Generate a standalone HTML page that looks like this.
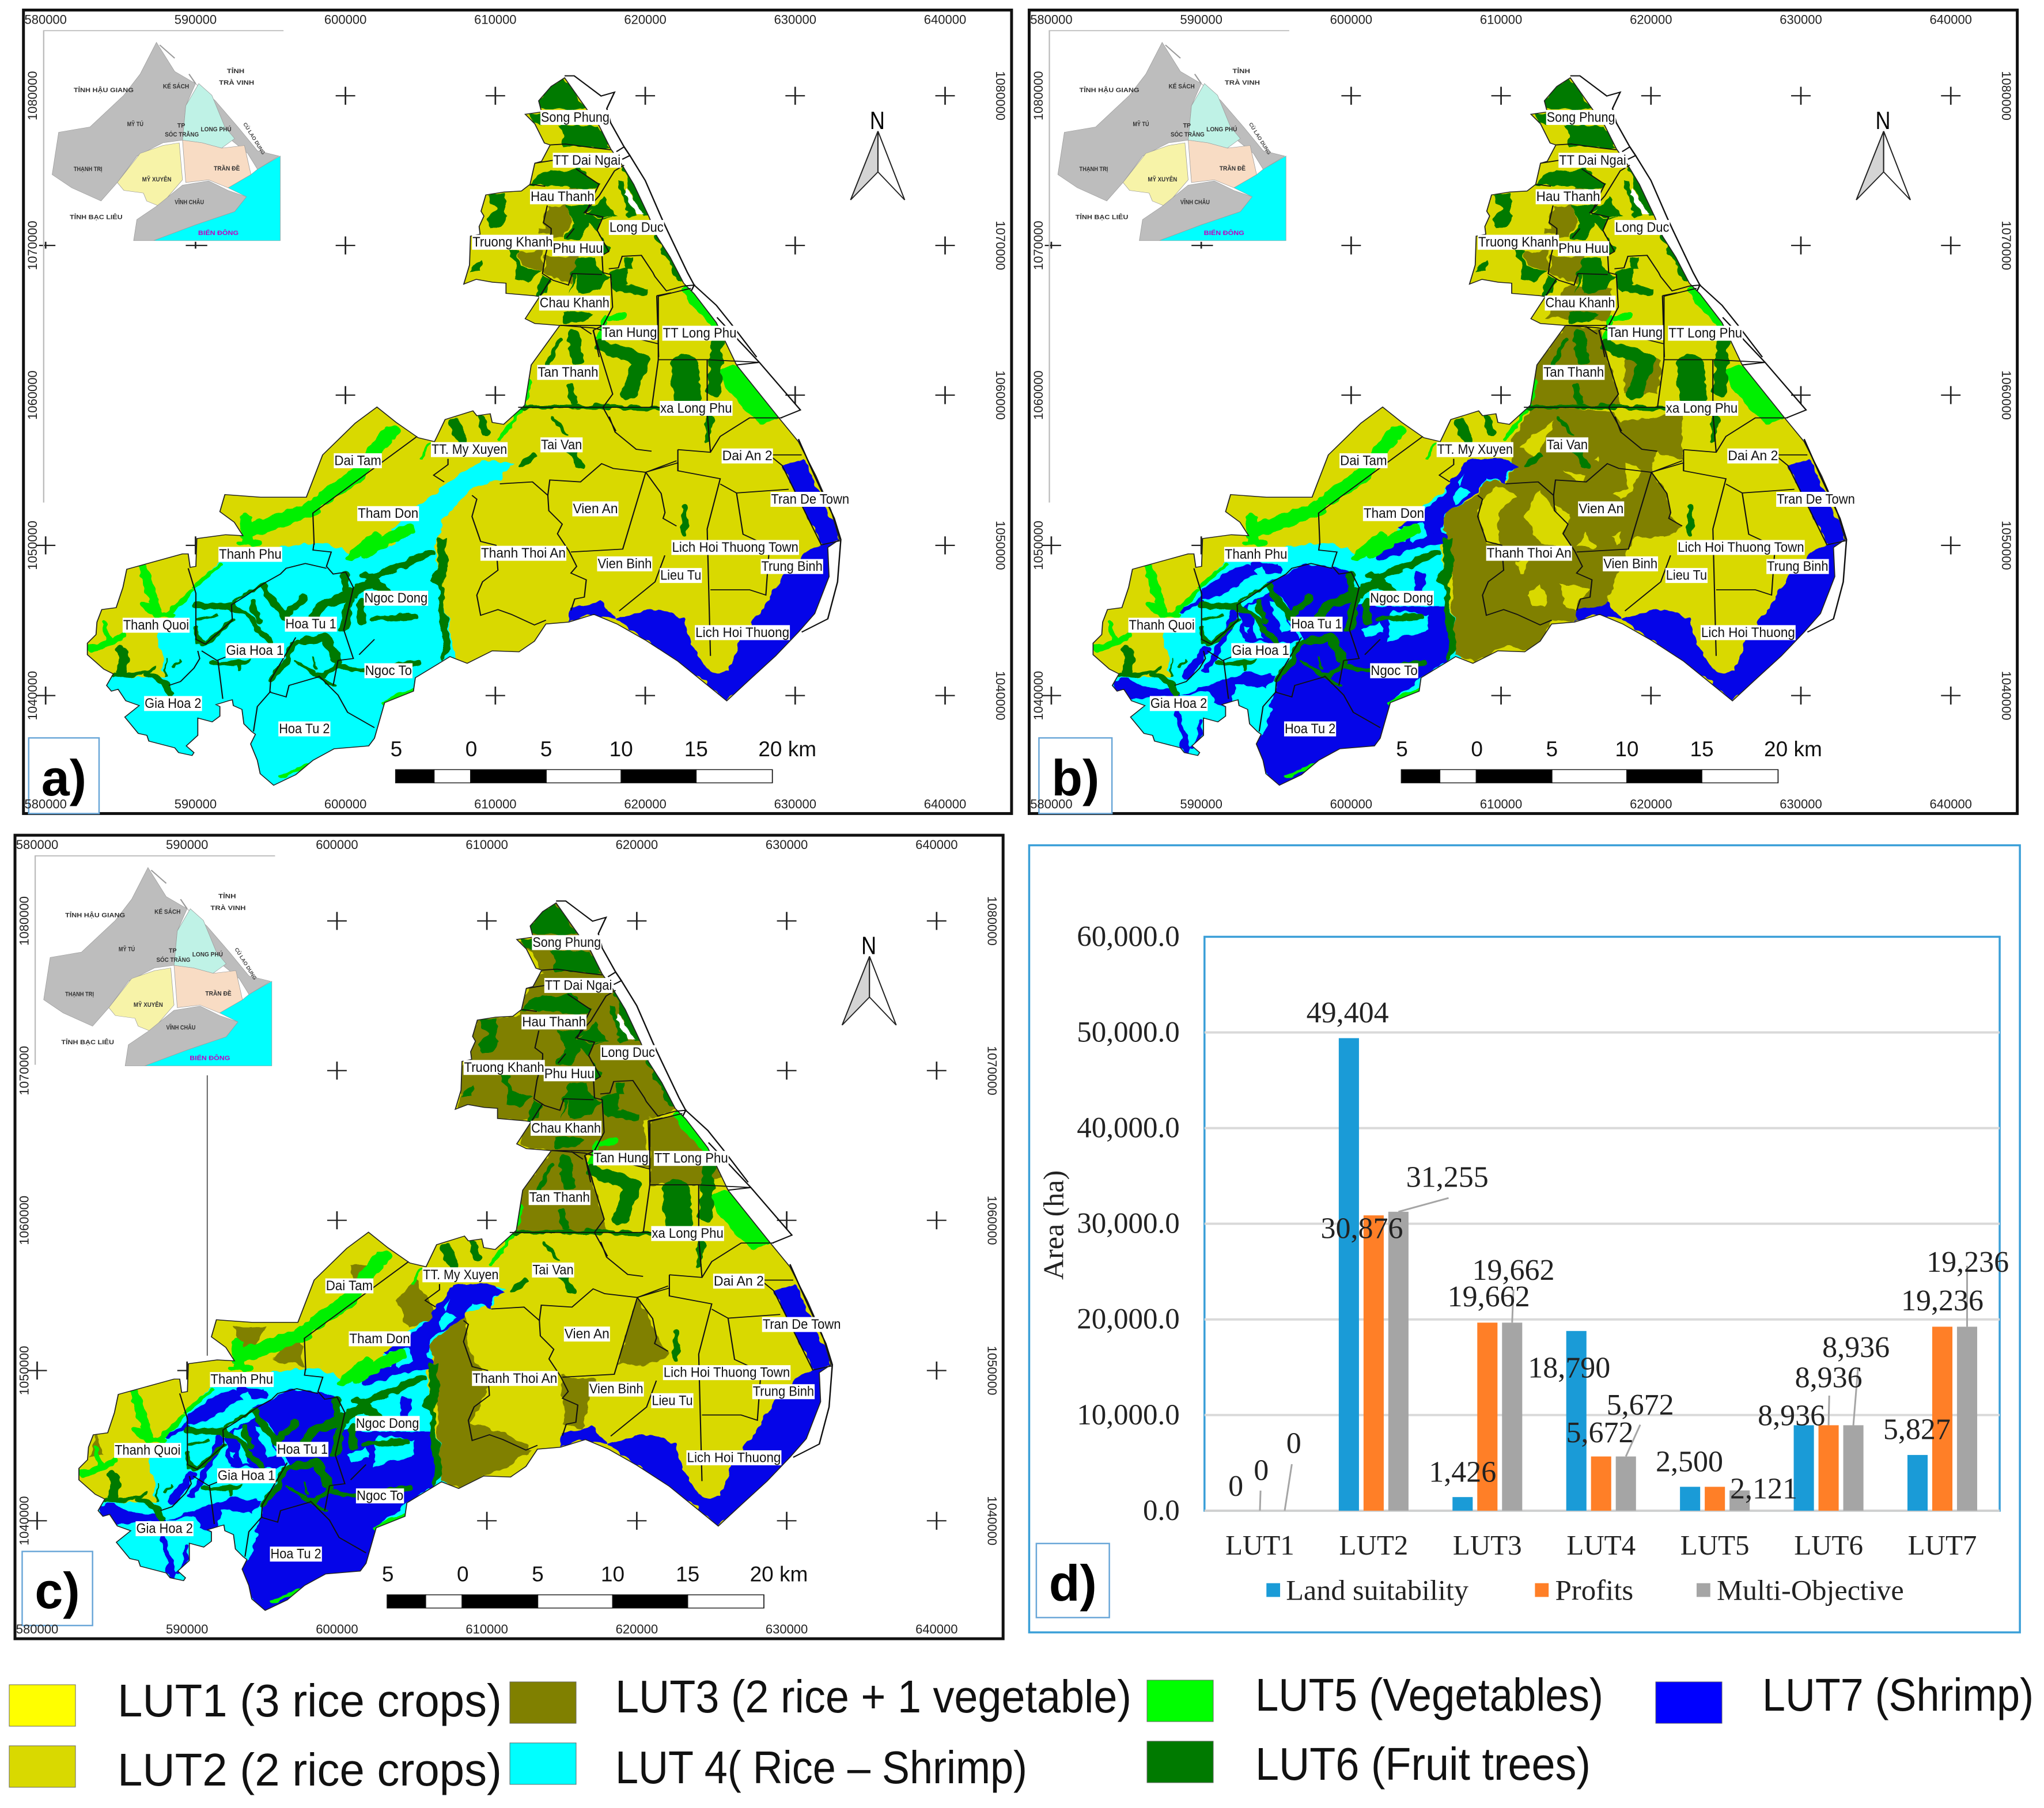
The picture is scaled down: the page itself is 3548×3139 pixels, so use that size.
<!DOCTYPE html>
<html lang="en">
<head>
<meta charset="utf-8">
<title>Land use type maps and area chart</title>
<style>
html,body{margin:0;padding:0;background:#fff;}
svg{display:block;}
text{font-family:"Liberation Sans","DejaVu Sans",sans-serif;}
.serif{font-family:"Liberation Serif","DejaVu Serif",serif;}
</style>
</head>
<body>
<svg id="figure" xmlns="http://www.w3.org/2000/svg" width="3548" height="3139" viewBox="0 0 3548 3139">
<rect x="0" y="0" width="3548" height="3139" fill="#ffffff"/>
<defs>
<clipPath id="land-clip"><polygon id="land-clip-shape" points=""/></clipPath>
<filter id="rough-edges" filterUnits="userSpaceOnUse" x="0" y="0" width="1568" height="1568" color-interpolation-filters="sRGB">
<feTurbulence type="fractalNoise" baseFrequency="0.055" numOctaves="2" seed="7" result="noise"/>
<feDisplacementMap in="SourceGraphic" in2="noise" scale="14" xChannelSelector="R" yChannelSelector="G"/>
</filter>
</defs>
<g id="maps"></g>
<g id="chart"></g>
<g id="legend"></g>
</svg>
<script>
/* ---------- chart data (panel d) ---------- */
const categories = ['LUT1','LUT2','LUT3','LUT4','LUT5','LUT6','LUT7'];
const landSuitability = [0,49404,1426,18790,2500,8936,5827];
const profits = [0,30876,19662,5672,2500,8936,19236];
const multiObjective = [0,31255,19662,5672,2121,8936,19236];
const seriesNames = ['Land suitability','Profits','Multi-Objective'];
const yTicks = [0,10000,20000,30000,40000,50000,60000];

/* ---------- helpers ---------- */
const NS = 'http://www.w3.org/2000/svg';
const SX = 1774/1568, SY = 1440/1568;
function mk(parent, tag, attrs, name){
  const el = document.createElementNS(NS, tag);
  for (const k in attrs) el.setAttribute(k, attrs[k]);
  
  
  parent.appendChild(el);
  return el;
}
function txt(parent, str, x, y, size, name, extra){
  const a = Object.assign({x:x, y:y, 'font-size':size, 'dominant-baseline':'central', 'text-anchor':'middle', fill:'#000'}, extra||{});
  const el = mk(parent, 'text', a, name);
  el.textContent = str;
  return el;
}
function pts(a){
  let s = '';
  for (let i = 0; i < a.length; i += 2) s += a[i] + ',' + a[i+1] + ' ';
  return s;
}
/* tracing frames: coordinates traced at 3x over a region, converted to the shared map frame */
function C(ox, oy, a){
  const r = [];
  for (let i = 0; i < a.length; i += 2) r.push((ox + a[i]/3)/SX, (oy + a[i+1]/3)/SY);
  return r;
}
const c1 = a => C(800, 100, a);
const c2 = a => C(130, 880, a);
const c3 = a => C(134.3, 880, a);
const c4 = a => C(654.3, 700, a);
/* stroke lines traced the same way: first entry is the width at 3x */
const wl = (f, a) => [a[0]/3.3].concat(f(a.slice(1)));

/* ---------- map geometry, in a shared local frame ---------- */
const LAND = [].concat(
 c1([540,105,655,268,720,355,780,475,840,560,900,660,980,830,1020,930,1090,1040,1160,1175,1215,1230,1330,1380]),
 [1130,690,1195,790,1225,835,1252,900,1275,965,1288,1020,1270,1035,1272,1090,1250,1160,1225,1195,1190,1240,1150,1285,1115,1325,1085,1295,1040,1250,990,1210],
 c4([1250,1150,1130,1100,1000,1140,880,1150,820,1240,740,1295,600,1290,470,1355,380,1320,340,1345,200,1430,190,1500,40,1560]),
 c2([1560,1205,1530,1245,1350,1260,1240,1320,1150,1395,1035,1450,965,1390,950,1320,915,1235,940,1185,920,1170,880,1130,870,1055,825,1035,820,1005,800,1010,735,1030,755,1040,755,1090,715,1120,640,1100,640,1190,580,1245,620,1280,610,1295,540,1280,520,1255,385,1220,375,1190,330,1180,260,1095,335,1035,265,1010,225,950,190,960,165,930,200,870,150,845,65,770,65,710,110,665,115,600,140,535,215,525,250,420,270,325,560,245,590,245,600,315,630,310,635,165,785,145,875,150,830,80,755,25]),
 [345,935,400,940,470,940,495,860,545,800],
 c4([0,20,100,100,215,180,300,200,355,85,500,40,520,65,590,55,600,100,660,110,770,10]),
 [815,690],
 c1([515,1395,385,1385,335,1360,410,1245,380,1240,235,1228,235,1175,165,1170,80,1155,15,1180,45,1080,50,930,100,920,95,880,120,825,105,800,130,715,225,700,315,695,360,660,385,550,420,540,465,455,435,445,385,345,335,295,420,283,405,225,470,150])
);
const COAST = [
 c1([540,95,590,95,650,140,730,200,800,180,760,265,780,340,850,465,880,510,960,640,1045,835,1075,900,1180,1120,1215,1185,1330,1290,1410,1390,1540,1560]),
 [1100,600,1165,685,1228,775,1198,790],
 [1225,830,1250,900,1280,980,1290,1020,1285,1100,1270,1170,1230,1195],
 [1130,690,1165,685],
 c1([810,490,850,465,880,510,840,530]),
 c1([1160,1190,1215,1185,1200,1215])
];
const DISTRICTS = [
 [640,825,480,970,482,1030],
 c2([1245,190,1240,225,1335,235,1310,310,1345,350,1410,340,1450,420,1400,640,1450,790,1370,800]),
 c2([1310,320,1200,295,1100,320,1070,350,990,395,880,470,815,510,820,590,680,715,630,690,630,450,590,320]),
 c2([660,750,740,800,790,780]),
 c2([745,800,770,1000]),
 c2([1150,680,1020,900,1015,965,1100,990,1115,930,1270,885]),
 c2([1020,960,950,1040,930,1170]),
 c2([1270,880,1370,980,1420,1070,1560,1150]),
 c2([640,750,650,790,620,840,550,910,490,930]),
 c2([1370,800,1345,930]),
 c2([1480,770,1560,690]),
 c4([495,480,520,500,495,590,540,720,620,740,630,870,550,930,520,1000,540,1105,630,1075,700,1100,820,1155,880,1130]),
 c4([640,420,810,410,890,480,895,560,965,630,940,680,1000,770,1040,850,1010,885,1090,920,1080,1010,1030,1020,1010,1080]),
 c4([890,480,900,400,1060,410,1170,315,1230,340,1400,360,1280,760,1010,775]),
 c4([1400,360,1480,470,1500,570,1490,600,1560,640]),
 c4([1400,360,1560,300]),
 c4([1430,250,1350,240,1240,150,1210,70]),
 c4([370,290,370,320,295,375,350,410]),
 [990,893,1040,875,1040,890,1105,905,1085,1000,1090,1240],
 [1020,1050,1005,1100,950,1155],
 [1105,915,1130,932,1140,1010,1175,1030,1225,1030],
 [1130,932,1210,925],
 [1040,850,1090,855,1105,825,1150,790,1200,790],
 [1040,850,1040,890],
 [1180,860,1230,860],
 [1180,860,1200,880,1260,1030,1290,1022],
 [1090,1115,1150,1115,1175,1125,1180,1040],
 [1090,855,1085,780,1085,680,1010,680,1010,560,1060,545],
 [1085,680,1165,685],
 [910,625,940,745,925,770,945,815],
 [1010,680,1000,770],
 [795,770,860,770,925,770,1010,770,1085,780],
 [860,615,910,620,1010,650],
 c1([465,455,545,450,690,470,780,480]),
 c1([385,550,480,535]),
 c1([600,580,720,660,690,720,650,810,740,830,710,900,770,1010,735,1030,740,1120,780,1130,790,1300,740,1395]),
 c1([360,660,440,670]),
 c1([450,770,430,860,470,890,470,915,440,1030,425,1125,480,1160,560,1185,580,1125,735,1130]),
 c1([470,1150,410,1245]),
 c1([640,810,720,720,800,590,850,560]),
 c1([550,940,590,890]),
 c1([770,1100,820,1095,840,1035,940,1030,1000,1120,1010,1140,1070,1215,1160,1190]),
 c1([1020,1240,1095,1225]),
 c1([1020,1240,1030,1560]),
 c1([515,1395,740,1395,690,1420,720,1560]),
 c1([620,1400,680,1440])
];
const CYAN = [].concat(
 c2([470,890,430,660,490,550,625,440,610,420,750,290,1075,205,1245,195,1390,210,1430,265]),
 [610,1030,600,1000,650,950,700,900,740,870,785,875,770,905,720,925,680,985,665,1030,700,1250,640,1300,590,1500,100,1550,100,1320],
 c2([200,880])
);
const BLUE_SE = [875,1150,920,1135,945,1170,1010,1150,1050,1170,1060,1220,1090,1270,1120,1270,1135,1215,1170,1150,1200,1090,1240,1040,1290,1020,1275,1110,1240,1195,1190,1240,1150,1285,1115,1325,1085,1295,1040,1250,990,1210,945,1170,900,1165,870,1175];
const BLUE_E = [1200,880,1235,870,1262,940,1288,1020,1265,1030,1240,980];
const BLUE_MAIN = [].concat(
 c3([1020,370,1150,300,1300,310,1400,340,1420,500,1560,520]),
 c4([330,1060,340,1340,200,1430,40,1560]),
 c3([1560,1300,1350,1400,1035,1500,880,1300,905,1200,940,1185,1010,900,1140,680,1090,560,1030,470,960,390])
);
const BLUE_POLYS = [
 BLUE_MAIN,
 c3([620,430,800,310,1020,300,1020,345,880,360,700,470,610,480]),
 c3([810,540,1000,420,1120,690,1080,710,830,700]),
 c3([500,985,850,860,1000,880,960,950,790,920,780,1030,680,1030,660,960]),
 c3([170,900,230,890,310,940,480,960,500,985,240,1000,160,940]),
 c4([640,420,640,380,700,330,640,290,450,290,370,390,290,510,220,560,80,640,130,720,310,680,320,580,490,470,540,390]),
 c4([170,870,220,890,210,980,170,980])
];
const BLUE_RIBBONS = [
 wl(c3, [30,520,540,610,490]),
 wl(c3, [45,640,740,530,890]),
 wl(c3, [35,790,550,700,750,640,850]),
 wl(c3, [30,490,1080,540,1270]),
 wl(c3, [20,620,1110,600,1220,560,1250]),
 wl(c3, [30,880,300,1020,320]),
 wl(c4, [60,0,790,130,740,310,700])
];
const CYAN_HOLES = [
 c3([965,500,1020,500,1085,640,1040,650]),
 c3([870,510,910,500,940,690,900,690]),
 c3([840,620,870,620,860,660]),
 c3([890,330,930,315,960,370,920,400]),
 c3([880,800,1040,800,1040,830,880,840]),
 c3([520,975,830,820,830,850,520,965]),
 c4([355,490,410,435,460,460,380,530]),
 c4([105,640,210,625,240,690,160,725]),
 c4([385,410,420,370,400,430]),
 c4([30,1140,50,1090,240,1100,230,1190,120,1210,20,1250]),
 c3([1450,640,1560,600,1560,660,1470,680])
];
const OLIVE_NORTH = [
 c1([450,770,550,770,580,850,540,940,470,940,430,860]),
 c1([405,900,470,885,470,915,405,915]),
 c1([550,950,590,900,620,950]),
 c1([430,1120,440,1030,480,1040,610,1030,610,1120,570,1180,480,1140]),
 c1([300,1010,430,1005,420,1120,350,1090,310,1080]),
 c1([570,660,610,650,620,690,560,690])
];
const OLIVE_B = [
 c4([670,190,780,20,1200,40,1240,100,1560,50,1560,300,1430,250,1400,370,1480,470,1500,570,1560,640,1480,700,1310,700,1220,880,1190,980,1150,1060,1010,1070,1010,1130,880,1140,820,1240,740,1290,650,1270,590,1290,490,1350,380,1310,370,1150,360,860,310,620,330,570,490,480,540,400,640,420,680,350]),
 [795,770,815,690,860,615,910,620,945,770],
 [860,540,930,545,925,610,830,600],
 [950,660,1005,680,1000,745,950,745]
];
const YELLOW_BLOBS_B = [
 c4([500,540,590,430,690,480,600,570,600,730,545,730,500,600]),
 c4([735,590,820,450,900,570,965,630,940,690,985,745,825,740,770,650]),
 c4([700,820,760,820,730,880,710,880]),
 c4([755,1000,820,940,850,1000,840,1060,780,1050]),
 c4([925,935,1080,970,1040,1010,1010,1080,950,1070]),
 c4([1010,750,1060,670,1110,750]),
 c4([1195,690,1240,670,1230,740,1205,740]),
 c4([895,530,980,580,965,625,895,570]),
 c4([1200,480,1280,440,1280,390,1260,300,1340,340,1300,460,1240,500]),
 c4([940,350,1060,385,1040,410,980,390]),
 c4([1100,290,1130,280,1125,305]),
 c4([710,230,890,90,850,200,800,290,760,260]),
 c4([1490,480,1560,490,1560,620,1500,590])
];
const OLIVE_C = [
 [830,180,868,146,885,148,905,195,935,265,952,300,965,345,1010,440,1058,535,1000,560,1010,650,910,625,945,770,795,770,815,690,860,615,810,605,820,555,780,555,715,535,720,470,745,370,810,360,820,310,845,280,830,240,805,225,830,210],
 [1010,560,1060,545,1095,605,1120,665,1085,680,1010,680],
 [670,985,725,925,735,1000,765,1060,735,1130,790,1150,830,1180,790,1215,745,1240,725,1255,690,1240,680,1020],
 [875,1040,930,1050,905,1140,880,1130,875,1080],
 [990,893,1040,1000,1010,1020,960,1020],
 [550,830,590,830,555,880],
 [650,860,690,930,640,950,620,900],
 [370,950,420,950,390,1010],
 [470,960,482,1025,430,1010],
 [160,1150,175,1190,150,1195]
];
const DARK_POLYS = [
 c1([540,110,655,268,420,268,405,225,470,150]),
 c1([335,295,420,283,420,350,385,340]),
 c1([505,355,720,355,780,475,535,460,530,400]),
 c1([400,610,470,580,540,590,620,580,720,660,690,690,590,680,360,665]),
 c1([140,720,230,710,240,760,225,800,240,830,200,880,150,880,140,840,180,800,170,760]),
 c1([550,775,610,775,720,760,650,810,720,830,820,830,730,840,700,900,745,950,770,1010,730,1025,735,950,660,860,620,950,540,950,590,860]),
 c1([250,1000,300,1005,300,1080,420,1120,350,1165,270,1155,290,1100]),
 c1([610,1040,700,1040,740,1120,780,1130,720,1210,600,1230,600,1130,570,1230,580,1130]),
 c1([380,1240,430,1140,470,1150,440,1230]),
 c1([770,1110,870,1090,860,1180,970,1200,970,1235,800,1230]),
 c1([850,1040,900,1040,900,1100,860,1100]),
 c1([50,1090,110,1050,105,1120,40,1120]),
 c1([740,720,770,780,820,830,650,820,700,770]),
 c1([840,560,870,560,980,830,950,830,880,690]),
 c1([810,640,840,650,910,830,880,830]),
 c1([1010,930,1050,930,1160,1170,1130,1170]),
 c1([530,1330,690,1330,660,1370,540,1385]),
 c4([310,700,360,700,370,870,340,950,370,1150,385,1280,340,1340,330,1150,320,950,270,920,320,870])
];
const WHITE_STRIPS = [c1([870,680,950,820,910,820,850,710])];
const DARK_LINES = [
 [8,860,640,840,690],[18,880,630,885,680],[24,925,655,985,680,965,745],[42,1050,690,1055,750],[20,1100,650,1095,740],
 [8,795,770,860,770,925,768,1010,772,1085,780],[9,1090,790,1085,830],[12,875,730,880,760],[8,850,790,865,820],[10,820,860,800,880],[12,875,850,890,880],[10,1050,960,1050,1010],
 wl(c2, [45,640,510,810,520]),wl(c2, [20,640,590,740,570]),wl(c2, [25,630,640,640,700,680,715,760,640,815,590]),
 wl(c2, [28,820,520,900,560,960,650,1020,700]),wl(c2, [30,920,500,960,600]),wl(c2, [40,985,410,1040,510,1090,570]),wl(c2, [15,820,500,920,430,990,400]),
 wl(c2, [40,1100,570,1190,470]),wl(c2, [50,1240,570,1300,510,1420,460]),wl(c2, [40,1400,350,1430,480,1400,640]),wl(c2, [60,1440,450,1560,390]),wl(c2, [40,1480,490,1500,600]),
 wl(c2, [50,1180,700,1300,680,1370,800]),wl(c2, [30,1150,700,1090,820,1020,900]),wl(c2, [20,1150,800,1270,880,1350,940]),wl(c2, [30,1270,880,1370,830,1530,850]),wl(c2, [12,1240,790,1260,850]),
 wl(c2, [30,715,810,760,820,900,800]),wl(c2, [20,860,810,860,850]),wl(c2, [50,240,740,260,790,240,860]),wl(c2, [25,200,880,320,870,420,840]),wl(c2, [35,380,870,470,920,490,970]),wl(c2, [10,480,800,470,880]),wl(c2, [14,520,830,550,800]),
 [12,575,1090,660,1045],[14,560,1085,600,1130],[10,575,1170,640,1165],[10,590,1260,640,1255],
 c4([0,0]).length ? wl(c4, [60,400,100,440,190]) : [],
 wl(c4, [40,540,70,570,150])
];
const BRIGHT_LINES = [
 [25,600,815,545,900,470,965,385,1000],[22,625,1000,560,1045],
 [25,1060,550,1130,650,1190,780],[40,1125,710,1170,780],[10,930,600,920,640],[12,810,720,800,770],[8,640,1300,590,1330],[6,430,1470,520,1420],
 wl(c4, [20,640,190,770,10]),wl(c4, [14,220,300,270,210]),
 wl(c2, [50,350,310,410,470,430,560]),wl(c2, [40,360,510,430,560,500,560]),wl(c2, [30,155,610,170,690]),wl(c2, [35,80,740,260,670]),
 wl(c2, [55,890,60,900,180]),wl(c2, [45,880,150,1060,100,1240,10]),wl(c2, [25,860,190,960,190]),wl(c2, [22,620,420,760,300]),wl(c2, [60,1560,160,1440,260]),wl(c2, [24,490,550,610,440]),
 wl(c1, [40,780,1355,840,1350]),wl(c1, [24,1185,1225,1300,1340])
];
const MAP_LABELS = [
 ['Song Phung',830,935,222],['TT Dai Ngai',849,952,303],['Hau Thanh',814,912,372],['Truong Khanh',725,848,458],
 ['Phu Huu',848,925,470],['Long Duc',935,1018,430],['Chau Khanh',828,935,573],['Tan Hung',924,1008,629],
 ['TT Long Phu',1017,1130,630],['Tan Thanh',825,918,704],['xa Long Phu',1013,1123,772],['Dai Tam',513,585,871],
 ['TT. My Xuyen',662,778,850],['Tai Van',830,893,841],['Dai An 2',1108,1185,862],['Vien An',879,948,962],
 ['Tran De Town',1183,1303,944],['Tham Don',549,642,971],['Thanh Phu',336,432,1048],['Thanh Thoi An',738,868,1046],
 ['Lich Hoi Thuong Town',1031,1225,1035],['Vien Binh',917,1000,1066],['Trung Binh',1168,1262,1071],['Lieu Tu',1013,1076,1088],
 ['Ngoc Dong',559,656,1131],['Thanh Quoi',189,290,1182],['Hoa Tu 1',438,516,1180],['Lich Hoi Thuong',1067,1211,1196],
 ['Gia Hoa 1',347,435,1230],['Ngoc To',560,632,1268],['Gia Hoa 2',222,309,1330],['Hoa Tu 2',428,506,1378]
];
const INSET_SHAPES = [
 ['#00ffff',[430,295,430,455,235,455,300,425,360,400,378,372,350,355,385,330,395,320]],
 ['#bdbdbd',[240,80,215,140,190,180,138,240,90,250,80,330,110,355,155,380,180,345,210,295,250,270,280,265,285,200,300,158,268,135]],
 ['#bdbdbd',[300,158,330,190,365,240,395,285,428,295,395,320,380,290,355,265,340,230,320,180]],
 ['#bff2e6',[305,158,325,180,345,240,360,262,340,280,310,270,280,265,285,200]],
 ['#f7f3a8',[180,345,215,290,250,275,275,270,280,340,245,390,225,380,220,365,190,360]],
 ['#f8dcc4',[280,265,310,270,340,280,375,275,385,330,350,355,320,340,285,345]],
 ['#bdbdbd',[280,350,320,342,350,360,378,372,360,400,300,425,235,455,205,455,210,415,240,390]]
];
const INSET_LABELS = [
 ['TỈNH HẬU GIANG',113,205,171,0],['TỈNH',348,375,135,0],['TRÀ VINH',336,390,157,0],['KẾ SÁCH',250,290,164,0],
 ['MỸ TÚ',195,220,235,0],['TP',272,284,238,0],['SÓC TRĂNG',253,305,255,0],['LONG PHÚ',308,355,245,0],
 ['THẠNH TRỊ',113,157,320,0],['TRẦN ĐỀ',328,368,319,0],['MỸ XUYÊN',218,263,340,0],['VĨNH CHÂU',268,313,383,0],
 ['TỈNH BẠC LIÊU',107,188,411,0],['BIỂN ĐÔNG',304,366,441,1]
];
const GRID_X = [70,300,530,760,990,1220,1450];
const GRID_Y = [181,464,747,1031,1315];
const X_NAMES = ['580000','590000','600000','610000','620000','630000','640000'];
const Y_NAMES = ['1080000','1070000','1060000','1050000','1040000'];

const OLIVE='#808000', YEL='#d9d900', CYA='#00ffff', BLU='#0505e8', DRK='#007a00', BRT='#00f000';

document.getElementById('land-clip-shape').setAttribute('points', pts(LAND));

function drawPanel(opts){
  const root = document.getElementById('maps');
  const X = z => opts.dx + z*SX, Y = z => opts.dy + z*SY;
  const panel = mk(root, 'g', {}, 'map-panel-' + opts.key);
  mk(panel, 'rect', {x:X(36), y:Y(19), width:1516*SX, height:1519*SY, fill:'#fff', stroke:'#111', 'stroke-width':5}, 'map-frame');

  const geo = mk(panel, 'g', {transform:'translate(' + opts.dx + ',' + opts.dy + ') scale(' + SX + ',' + SY + ')'}, 'map-geometry');

  // graticule crosses
  GRID_Y.forEach((gy, r) => GRID_X.forEach((gx, c) => {
    if (r < 3 && c < 2) return;
    mk(geo, 'path', {d:'M' + (gx-15) + ' ' + gy + 'H' + (gx+15) + 'M' + gx + ' ' + (gy-17) + 'V' + (gy+17), stroke:'#222', 'stroke-width':2.4, fill:'none'}, 'graticule-cross');
  }));
  if (opts.key !== 'c') {
    mk(geo, 'path', {d:'M60 464H85M285 464H318M300 457V470M70 457V470', stroke:'#222', 'stroke-width':2.4, fill:'none'}, 'graticule-tick');
  }

  // land and land-use layers
  mk(geo, 'polygon', {points:pts(LAND), fill:YEL}, 'lut2-land');
  const clip = mk(geo, 'g', {'clip-path':'url(#land-clip)'}, 'land-use-clip');
  const layers = mk(clip, 'g', {filter:'url(#rough-edges)'}, 'land-use-layers');
  const poly = (a, fill, name) => mk(layers, 'polygon', {points:pts(a), fill:fill}, name);
  const line = (a, col, name) => mk(layers, 'polyline', {points:pts(a.slice(1)), fill:'none', stroke:col, 'stroke-width':a[0], 'stroke-linejoin':'round', 'stroke-linecap':'round'}, name);

  poly(CYAN, CYA, 'lut4-area');
  poly(BLUE_SE, BLU, 'lut7-southeast');
  poly(BLUE_E, BLU, 'lut7-east-strip');
  if (opts.key === 'a') OLIVE_NORTH.forEach(p => poly(p, OLIVE, 'lut3-patch'));
  if (opts.key === 'b') {
    OLIVE_NORTH.forEach(p => poly(p, OLIVE, 'lut3-patch'));
    OLIVE_B.forEach(p => poly(p, OLIVE, 'lut3-patch'));
    YELLOW_BLOBS_B.forEach(p => poly(p, YEL, 'lut2-patch'));
  }
  if (opts.key === 'c') {
    OLIVE_C.forEach(p => poly(p, OLIVE, 'lut3-patch'));
  }
  if (opts.key !== 'a') {
    BLUE_POLYS.forEach(p => poly(p, BLU, 'lut7-area'));
    BLUE_RIBBONS.forEach(l => line(l, BLU, 'lut7-ribbon'));
    CYAN_HOLES.forEach(p => poly(p, CYA, 'lut4-patch'));
  }
  BRIGHT_LINES.forEach(l => line(l, BRT, 'lut5-strip'));
  DARK_POLYS.forEach(p => poly(p, DRK, 'lut6-patch'));
  DARK_LINES.forEach(l => line(l, DRK, 'lut6-strip'));
  WHITE_STRIPS.forEach(p => poly(p, '#fff', 'unclassified-strip'));

  // boundaries
  DISTRICTS.forEach(d => mk(geo, 'polyline', {points:pts(d), fill:'none', stroke:'#111', 'stroke-width':1.9}, 'district-boundary'));
  mk(geo, 'polygon', {points:pts(LAND), fill:'none', stroke:'#222', 'stroke-width':1.6}, 'land-outline');
  COAST.forEach(d => mk(geo, 'polyline', {points:pts(d), fill:'none', stroke:'#111', 'stroke-width':2.2}, 'coast-line'));

  // inset locator
  mk(geo, 'path', {d:'M435 58H67V' + opts.lineEnd, fill:'none', stroke:'#bbb', 'stroke-width':2}, 'inset-frame');
  if (opts.key === 'c') mk(geo, 'path', {d:'M331 473V1003', fill:'none', stroke:'#555', 'stroke-width':1.6}, 'inset-leader-line');
  INSET_SHAPES.forEach(s => mk(geo, 'polygon', {points:pts(s[1]), fill:s[0], stroke:'#9a9a9a', 'stroke-width':0.7}, 'inset-region'));
  mk(geo, 'path', {d:'M245 85L268 110M290 140L300 158', fill:'none', stroke:'#999', 'stroke-width':2}, 'inset-coast');

  // north arrow
  mk(geo, 'polygon', {points:pts([1347,248,1305,378,1347,325]), fill:'#d4d4d4', stroke:'#222', 'stroke-width':1.8}, 'north-arrow-left');
  mk(geo, 'polygon', {points:pts([1347,248,1388,378,1347,325]), fill:'#fff', stroke:'#222', 'stroke-width':1.8}, 'north-arrow-right');

  // scale bar
  [[607,666,1],[666,722,0],[722,838,1],[838,953,0],[953,1068,1],[1068,1185,0]].forEach(s => {
    mk(geo, 'rect', {x:s[0], y:1455, width:s[1]-s[0], height:25, fill:s[2] ? '#000' : '#fff', stroke:'#111', 'stroke-width':1.5}, 'scale-bar-segment');
  });

  // panel letter box sits under the coordinate text
  const b = opts.box;
  mk(panel, 'rect', {x:X(b[0]), y:Y(b[1]), width:(b[2]-b[0])*SX, height:(b[3]-b[1])*SY, fill:'#fff', stroke:'#6aa7d8', 'stroke-width':2.5}, 'panel-letter-box');

  // text (unscaled)
  const t = mk(panel, 'g', {}, 'map-text');
  X_NAMES.forEach((n, i) => {
    txt(t, n, X(GRID_X[i]), Y(37), 22, 'x-coordinate-top', {fill:'#222'});
    txt(t, n, X(GRID_X[i]), Y(1520), 22, 'x-coordinate-bottom', {fill:'#222'});
  });
  Y_NAMES.forEach((n, i) => {
    const yy = Y(GRID_Y[i]);
    txt(t, n, X(50), yy, 22, 'y-coordinate-left', {fill:'#222', transform:'rotate(-90 ' + X(50) + ' ' + yy + ')'});
    txt(t, n, X(1535), yy, 22, 'y-coordinate-right', {fill:'#222', transform:'rotate(90 ' + X(1535) + ' ' + yy + ')'});
  });
  INSET_LABELS.forEach(l => {
    txt(t, l[0], X((l[1]+l[2])/2), Y(l[3]), 11, 'inset-label', {'font-weight':'bold', fill:l[4] ? '#c000c0' : '#333', textLength:(l[2]-l[1])*SX, lengthAdjust:'spacingAndGlyphs'});
  });
  txt(t, 'CÙ LAO DUNG', X(390), Y(262), 9, 'inset-label', {'font-weight':'bold', fill:'#444', transform:'rotate(58 ' + X(390) + ' ' + Y(262) + ')'});
  MAP_LABELS.forEach(l => {
    mk(t, 'rect', {x:X(l[1])-1, y:Y(l[3])-13, width:(l[2]-l[1])*SX+2, height:26, fill:'#fff'}, 'place-label-background');
    txt(t, l[0], X((l[1]+l[2])/2), Y(l[3]), 24, 'place-label', {textLength:(l[2]-l[1])*SX, lengthAdjust:'spacingAndGlyphs', fill:'#111'});
  });
  txt(t, 'N', X(1346), Y(228), 44, 'north-arrow-letter', {textLength:26, lengthAdjust:'spacingAndGlyphs'});
  [['5',608],['0',723],['5',838],['10',953],['15',1068],['20 km',1208]].forEach(s => txt(t, s[0], X(s[1]), Y(1416), 37, 'scale-bar-label', {fill:'#111'}));

  txt(panel, opts.key + ')', X((b[0]+b[2])/2), Y((b[1]+b[3])/2 + 4), 88, 'panel-letter', {'font-weight':'bold'});
}

const DXB = 1774 - 25*SX;
const DXC = -13*SX, DYC = 1440 - 8*SY;
drawPanel({key:'a', dx:0, dy:0, lineEnd:950, box:[44,1395,152,1538]});
drawPanel({key:'b', dx:DXB, dy:0, lineEnd:950, box:[51,1395,163,1538]});
drawPanel({key:'c', dx:DXC, dy:DYC, lineEnd:453, box:[47,1373,155,1513]});

/* ---------- bar chart ---------- */
const chart = document.getElementById('chart');
const dX = z => 1774 + z*SX, dY = z => 1440 + z*SY;
const yScale = v => dY(1288) - v/60000*(dY(1288) - dY(203));
const groupCenter = i => dX(365) + i*(174.5*SX);
const barOffset = s => (s-1)*38*SX;
const BAR_W = 31*SX;
const seriesColors = ['#1a9bd7','#ff7f27','#a5a5a5'];
const allSeries = [landSuitability, profits, multiObjective];
/* layout nudges for the hand-placed data labels, relative to each bar's top centre */
const labelNudge = [
 [[1,-46],[-2,-48],[0,-47],[-11,70],[-1,-47],[-19,-18],[-1,-48]],
 [[2,-76],[-18,25],[2,-49],[-2,-45],null,[0,-90],[0,-49]],
 [[14,-127],[75,-65],[2,-99],[22,-97],[37,-3],[4,-147],[1,-122]]
];
const leaderNudge = [[1,0,1,-38],[2,0,11,-88],[2,1,77,-26],[2,2,2,-63],[2,3,22,-60],[1,5,1,-56],[2,5,7,-106],[2,6,0,-115]];

mk(chart, 'rect', {x:dX(11), y:dY(30), width:1520*SX, height:1488*SY, fill:'#fff', stroke:'#3a9fd8', 'stroke-width':3.5}, 'chart-outer-frame');
mk(chart, 'rect', {x:dX(280), y:dY(203), width:1220*SX, height:1085*SY, fill:'#fff', stroke:'#3a9fd8', 'stroke-width':3.5}, 'plot-area-frame');

yTicks.forEach(v => {
  const y = yScale(v);
  if (v > 0 && v < 60000) {
    mk(chart, 'line', {x1:dX(280), x2:dX(1500), y1:y, y2:y, stroke:'#d9d9d9', 'stroke-width':4}, 'gridline');
  }
  if (v === 0) mk(chart, 'line', {x1:dX(280), x2:dX(1500), y1:y, y2:y, stroke:'#d0d0d0', 'stroke-width':4}, 'x-axis-line');
  txt(chart, v.toLocaleString('en-US', {minimumFractionDigits:1, maximumFractionDigits:1}), dX(242), y, 51, 'y-tick-label', {'text-anchor':'end', class:'serif', fill:'#222'});
});
const ax = dX(48), ay = dY(748);
txt(chart, 'Area (ha)', ax, ay, 50, 'y-axis-title', {class:'serif', fill:'#222', transform:'rotate(-90 ' + ax + ' ' + ay + ')'});

allSeries.forEach((vals, s) => {
  vals.forEach((v, i) => {
    const top = yScale(v), cx = groupCenter(i) + barOffset(s);
    if (v > 0) mk(chart, 'rect', {x:cx - BAR_W/2, y:top, width:BAR_W, height:yScale(0)-top, fill:seriesColors[s]}, 'bar-' + categories[i].toLowerCase() + '-series-' + (s+1));
  });
});
leaderNudge.forEach(l => {
  const top = yScale(allSeries[l[0]][l[1]]), cx = groupCenter(l[1]) + barOffset(l[0]);
  mk(chart, 'line', {x1:cx, y1:top, x2:cx + l[2]*SX, y2:top + l[3]*SY, stroke:'#a5a5a5', 'stroke-width':3}, 'data-label-leader');
});
allSeries.forEach((vals, s) => {
  vals.forEach((v, i) => {
    const n = labelNudge[s][i];
    if (!n) return;
    const top = yScale(v), cx = groupCenter(i) + barOffset(s);
    txt(chart, v.toLocaleString('en-US'), cx + n[0]*SX, top + n[1]*SY, 52, 'data-label', {class:'serif', fill:'#222'});
  });
});
categories.forEach((c, i) => txt(chart, c, groupCenter(i), dY(1353), 49, 'x-tick-label', {class:'serif', fill:'#222'}));

const legendPos = [[375,405,280],[787,818,120],[1035,1066,287]];
seriesNames.forEach((n, s) => {
  const p = legendPos[s];
  mk(chart, 'rect', {x:dX(p[0]), y:dY(1425), width:21*SX, height:26*SY, fill:seriesColors[s]}, 'chart-legend-swatch');
  txt(chart, n, dX(p[1]), dY(1438), 50, 'chart-legend-label', {'text-anchor':'start', class:'serif', fill:'#222', textLength:p[2]*SX, lengthAdjust:'spacingAndGlyphs'});
});
mk(chart, 'rect', {x:dX(22), y:dY(1350), width:112*SX, height:140*SY, fill:'#fff', stroke:'#6aa7d8', 'stroke-width':2.5}, 'panel-letter-box');
txt(chart, 'd)', dX(78), dY(1425), 88, 'panel-letter', {'font-weight':'bold'});

/* ---------- land-use legend ---------- */
const legend = document.getElementById('legend');
const legendItems = [
 ['LUT1 (3 rice crops)','#ffff00',16,2925,204,871,2980],
 ['LUT2 (2 rice crops)','#d9d900',16,3031,204,871,3100],
 ['LUT3 (2 rice + 1 vegetable)','#808000',885,2920,1068,1964,2973],
 ['LUT 4( Rice – Shrimp)','#00ffff',885,3026,1068,1783,3096],
 ['LUT5 (Vegetables)','#00ff00',1991,2917,2179,2783,2970],
 ['LUT6 (Fruit trees)','#007a00',1991,3023,2179,2761,3090],
 ['LUT7 (Shrimp)','#0000ff',2874,2920,3059,3530,2970]
];
legendItems.forEach(d => {
  mk(legend, 'rect', {x:d[2], y:d[3], width:115, height:72, fill:d[1], stroke:'#666', 'stroke-width':1}, 'legend-swatch');
  const el = mk(legend, 'text', {x:d[4], y:d[6], 'font-size':80, fill:'#111', textLength:d[5]-d[4], lengthAdjust:'spacingAndGlyphs'}, 'legend-label');
  el.textContent = d[0];
});
</script>
</body>
</html>
